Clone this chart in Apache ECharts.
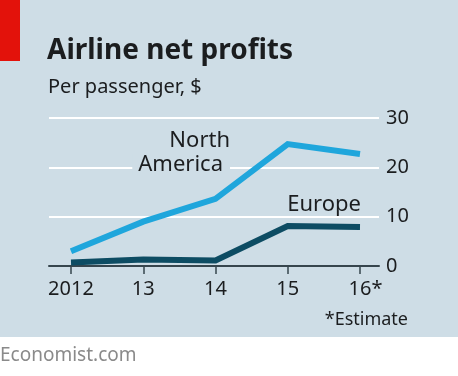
<!DOCTYPE html>
<html>
<head>
<meta charset="utf-8">
<script src="https://cdn.jsdelivr.net/npm/echarts@6/dist/echarts.min.js"></script>
<style>
  html, body { margin: 0; padding: 0; background: #fff; }
  #chart { width: 458px; height: 376px; }
</style>
</head>
<body>
<div id="chart"></div>
<script>
// data
var years = ['2012', '13', '14', '15', '16*']
var northAmerica = [3.0, 9.0, 13.6, 24.7, 22.7]
var europe = [0.7, 1.3, 1.1, 8.1, 7.9]
var yTicks = [0, 10, 20, 30]

var BG = '#cedde6'
var INK = '#1b1d1f'
var FONT = '"Noto Sans", sans-serif'

var chart = echarts.init(document.getElementById('chart'))

var option = {
  backgroundColor: BG,
  animation: false,
  grid: [
    // grid 0: gridlines + axis line + right hand labels
    { left: 49, right: 79, top: 118, bottom: 110 },
    // grid 1: the data, category points at 2012..16
    { left: 71, right: 98, top: 118, bottom: 110 }
  ],
  xAxis: [
    {
      type: 'value', gridIndex: 0, min: 0, max: 1,
      axisLine: { show: true, onZero: false, lineStyle: { color: '#36454d', width: 2 } },
      axisTick: { show: false },
      axisLabel: { show: false },
      splitLine: { show: false }
    },
    {
      type: 'category', gridIndex: 1, data: years, boundaryGap: false,
      axisLine: { show: false },
      axisTick: { show: true, interval: 0, alignWithLabel: true, length: 8, lineStyle: { color: '#36454d', width: 1.5 } },
      axisLabel: {
        interval: 0,
        hideOverlap: false,
        margin: 13,
        fontSize: 20,
        fontFamily: FONT,
        color: INK,
        formatter: function (v) {
          // keep the star out of the centring
          return v.indexOf('*') > -1 ? '{p|*}' + v.replace('*', '') + '{s|*}' : v
        },
        rich: {
          p: { fontSize: 20, fontFamily: FONT, color: 'rgba(0,0,0,0)' },
          s: { fontSize: 20, fontFamily: FONT, color: INK, verticalAlign: 'top' }
        }
      }
    }
  ],
  yAxis: [
    {
      type: 'value', gridIndex: 0, position: 'right', min: yTicks[0], max: yTicks[yTicks.length - 1], interval: 10,
      axisLine: { show: false },
      axisTick: { show: false },
      axisLabel: { margin: 7, fontSize: 20, fontFamily: FONT, color: INK },
      splitLine: { show: true, lineStyle: { color: '#ffffff', width: 2 } }
    },
    {
      type: 'value', gridIndex: 1, min: 0, max: 30, show: false
    }
  ],
  series: [
    {
      name: 'North America', type: 'line', xAxisIndex: 1, yAxisIndex: 1,
      data: northAmerica, showSymbol: false, symbol: 'none',
      lineStyle: { color: '#1fa6dc', width: 6, cap: 'butt', join: 'miter' },
      z: 3
    },
    {
      name: 'Europe', type: 'line', xAxisIndex: 1, yAxisIndex: 1,
      data: europe, showSymbol: false, symbol: 'none',
      lineStyle: { color: '#0d4c63', width: 6, cap: 'butt', join: 'miter' },
      z: 4
    }
  ],
  graphic: [
    { type: 'rect', shape: { x: 0, y: 0, width: 20, height: 61 }, style: { fill: '#e3120b' } },
    { type: 'rect', shape: { x: 0, y: 337, width: 458, height: 39 }, style: { fill: '#ffffff' } },
    {
      type: 'text', x: 47, y: 51,
      style: { text: 'Airline net profits', font: 'bold 28px ' + FONT, fill: INK, verticalAlign: 'middle' }
    },
    {
      type: 'text', x: 48, y: 87.5,
      style: { text: 'Per passenger, $', font: '20px ' + FONT, fill: INK, verticalAlign: 'middle' }
    },
    {
      type: 'text', x: 230, y: 140.5, z: 10,
      style: { text: 'North', font: '22px ' + FONT, fill: INK, align: 'right', verticalAlign: 'middle' }
    },
    {
      type: 'text', x: 230, y: 164.5, z: 10,
      style: {
        text: 'America', font: '22px ' + FONT, fill: INK, align: 'right', verticalAlign: 'middle',
        backgroundColor: BG, padding: [0, 7, 0, 6]
      }
    },
    {
      type: 'text', x: 361, y: 204.5, z: 10,
      style: { text: 'Europe', font: '22px ' + FONT, fill: INK, align: 'right', verticalAlign: 'middle' }
    },
    {
      type: 'text', x: 408, y: 320, z: 10,
      style: { text: '*Estimate', font: '18px ' + FONT, fill: INK, align: 'right', verticalAlign: 'middle' }
    },
    {
      type: 'text', x: 0, y: 356,
      style: { text: 'Economist.com', font: '19px ' + FONT, fill: '#8a8a8a', verticalAlign: 'middle' }
    }
  ]
}

chart.setOption(option)
</script>
</body>
</html>
